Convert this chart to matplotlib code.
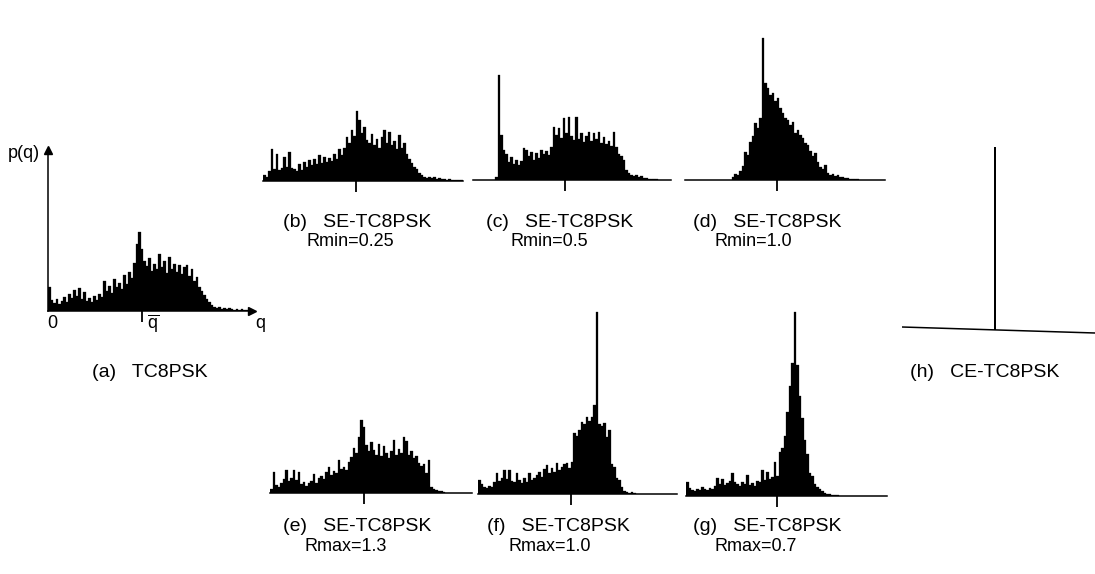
import matplotlib
matplotlib.use("Agg")
import matplotlib.pyplot as plt

plt.rcParams['font.family'] = ['Liberation Sans', 'DejaVu Sans']
plt.rcParams['mathtext.fontset'] = 'custom'
plt.rcParams['mathtext.rm'] = 'Liberation Sans'
plt.rcParams['mathtext.it'] = 'Liberation Sans'

# ---------------- data (histogram bar heights, relative units) ----------------
hist_a = [24, 11, 8, 12, 7, 10, 14, 9, 17, 13, 21, 15, 23, 12, 19, 10, 13, 9, 15, 11,
          17, 14, 30, 20, 25, 18, 32, 24, 28, 22, 36, 27, 39, 33, 48, 67, 79, 62, 50, 45,
          53, 40, 47, 42, 57, 44, 50, 38, 54, 42, 47, 39, 46, 37, 44, 46, 35, 42, 30, 34,
          24, 20, 16, 12, 9, 6, 4, 3, 4, 2, 3, 2, 3, 2, 1, 2, 1, 2, 1, 1]
hist_b = [6, 4, 10, 32, 12, 27, 11, 13, 24, 14, 29, 13, 12, 10, 17, 11, 19, 14, 21, 16,
          22, 17, 26, 18, 24, 19, 23, 20, 27, 22, 32, 26, 33, 44, 38, 51, 45, 70, 61, 48,
          54, 41, 38, 47, 36, 42, 33, 44, 51, 38, 49, 36, 40, 32, 46, 33, 38, 27, 22, 18,
          14, 12, 8, 6, 4, 3, 4, 3, 4, 2, 3, 2, 2, 1, 2, 1, 1, 1, 1, 1]
hist_c = [3, 105, 45, 30, 26, 18, 23, 16, 20, 15, 19, 32, 30, 24, 28, 20, 27, 22, 30, 26,
          29, 25, 33, 53, 45, 52, 42, 62, 47, 63, 44, 40, 63, 41, 47, 38, 44, 48, 39, 47,
          41, 48, 37, 43, 36, 39, 34, 48, 33, 26, 24, 20, 10, 7, 5, 4, 5, 3, 4, 2,
          2, 1, 1, 1, 1]
hist_d = [3, 6, 5, 9, 14, 28, 25, 38, 44, 57, 52, 62, 142, 97, 92, 85, 87, 79, 82, 72,
          67, 62, 60, 55, 58, 47, 50, 45, 42, 37, 35, 29, 24, 27, 18, 13, 11, 15, 7, 5,
          6, 4, 5, 3, 3, 2, 2, 1, 1, 1, 1]
hist_e = [4, 21, 8, 6, 10, 14, 23, 12, 15, 23, 13, 21, 9, 11, 7, 10, 12, 19, 10, 15,
          17, 14, 21, 26, 18, 22, 20, 33, 24, 26, 23, 31, 36, 45, 40, 56, 73, 66, 48, 42,
          51, 43, 38, 49, 37, 47, 40, 35, 42, 53, 38, 44, 40, 56, 52, 38, 42, 35, 37, 30,
          27, 29, 20, 33, 6, 4, 3, 2, 2, 1]
hist_f = [14, 10, 7, 6, 8, 7, 12, 21, 13, 16, 24, 15, 24, 13, 12, 21, 14, 11, 16, 12,
          21, 14, 16, 19, 22, 17, 25, 29, 21, 26, 22, 31, 24, 27, 30, 31, 26, 32, 61, 58,
          64, 72, 70, 77, 73, 77, 89, 182, 70, 68, 71, 57, 64, 30, 27, 16, 14, 7, 3, 2,
          1, 2, 1]
hist_g = [14, 8, 6, 5, 7, 6, 9, 7, 6, 8, 7, 10, 18, 12, 17, 11, 13, 15, 23, 14,
          12, 10, 14, 12, 21, 11, 13, 10, 15, 14, 26, 16, 24, 17, 19, 34, 20, 44, 48, 60,
          84, 110, 133, 184, 131, 100, 78, 56, 42, 23, 20, 12, 9, 7, 5, 3, 2, 2, 1, 1, 1]
peak_h = [183]

labels_top = ["(b)   SE-TC8PSK", "(c)   SE-TC8PSK", "(d)   SE-TC8PSK"]
params_top = ["Rmin=0.25", "Rmin=0.5", "Rmin=1.0"]
labels_bot = ["(e)   SE-TC8PSK", "(f)   SE-TC8PSK", "(g)   SE-TC8PSK"]
params_bot = ["Rmax=1.3", "Rmax=1.0", "Rmax=0.7"]

# ---------------- layout ----------------
W, H = 1095, 574
BIN = 2.5
fig = plt.figure(figsize=(W / 100, H / 100), dpi=100)
fig.patch.set_facecolor('white')


def px_axes(L, R, base, top):
    ax = fig.add_axes([L / W, 1 - base / H, (R - L) / W, (base - top) / H])
    ax.patch.set_alpha(0)
    return ax


def hist_panel(vals, L, R, base, start, mean_px, top_h=195):
    ax = px_axes(L, R, base, base - top_h)
    n = len(vals)
    ax.bar(range(n), vals, width=1.0, align='edge', color='black',
           edgecolor='black', linewidth=0.2)
    ax.set_xlim((L - start) / BIN, (R - start) / BIN)
    ax.set_ylim(0, top_h)
    for s in ['top', 'right', 'left']:
        ax.spines[s].set_visible(False)
    ax.spines['bottom'].set_linewidth(1.1)
    ax.set_yticks([])
    ax.set_xticks([(mean_px - start) / BIN])
    ax.set_xticklabels([])
    ax.tick_params(axis='x', direction='out', length=8, width=1.3, color='black')
    return ax


def ptext(x, y, s, size=14, **kw):
    fig.text(x / W, 1 - y / H, s, ha='left', va='baseline', fontsize=size, **kw)


# (a)
axa = px_axes(48, 252, 311, 150)
axa.bar(range(len(hist_a)), hist_a, width=1.0, align='edge', color='black',
        edgecolor='black', linewidth=0.2)
axa.set_xlim((48 - 48.3) / BIN, (252 - 48.3) / BIN)
axa.set_ylim(0, 161)
for s in ['top', 'right']:
    axa.spines[s].set_visible(False)
axa.spines['left'].set_linewidth(1.1)
axa.spines['bottom'].set_linewidth(1.1)
axa.set_yticks([])
axa.set_xticks([(142 - 48.3) / BIN])
axa.set_xticklabels([])
axa.tick_params(axis='x', direction='out', length=8, width=1.3)
axa.plot([1], [0], marker='>', ms=6, color='black', transform=axa.transAxes, clip_on=False)
axa.plot([0], [1], marker='^', ms=6, color='black', transform=axa.transAxes, clip_on=False)
ptext(8, 158, "p(q)", size=13)
ptext(47, 328, "0", size=13)
ptext(147, 328, r"$\overline{\mathrm{q}}$", size=13)
ptext(255, 328, "q", size=13)
ptext(92, 377, "(a)   TC8PSK", size=14)

# (b), (c), (d)
hist_panel(hist_b, 263, 463, 181, 263.3, 356)
hist_panel(hist_c, 473, 671, 180, 495, 565)
hist_panel(hist_d, 685, 885, 180, 731.7, 777)
# (e), (f), (g)
hist_panel(hist_e, 270, 472, 493, 270, 364)
hist_panel(hist_f, 478, 677, 494, 478.3, 571)
hist_panel(hist_g, 686, 887, 496, 686, 777)

# (h) - single spike on a slightly tilted baseline (scan skew)
axh = px_axes(902, 1095, 335, 140)
xmax_h = (1095 - 902) / BIN
axh.set_xlim(0, xmax_h)
axh.set_ylim(0, 195)
axh.plot([0, xmax_h], [8, 2], color='black', lw=1.1, solid_capstyle='butt')
axh.bar([(995 - 902) / BIN], peak_h, bottom=5, width=0.8, color='black', linewidth=0)
axh.axis('off')
ptext(910, 377, "(h)   CE-TC8PSK", size=14)

# labels
for x, s in zip([283, 486, 693], labels_top):
    ptext(x, 227, s)
for x, s in zip([306, 510, 715], params_top):
    ptext(x, 246, s, size=13)
for x, s in zip([283, 487, 693], labels_bot):
    ptext(x, 531, s)
for x, s in zip([305, 509, 715], params_bot):
    ptext(x, 551, s, size=13)

fig.savefig("out.png", dpi=100, facecolor='white')
